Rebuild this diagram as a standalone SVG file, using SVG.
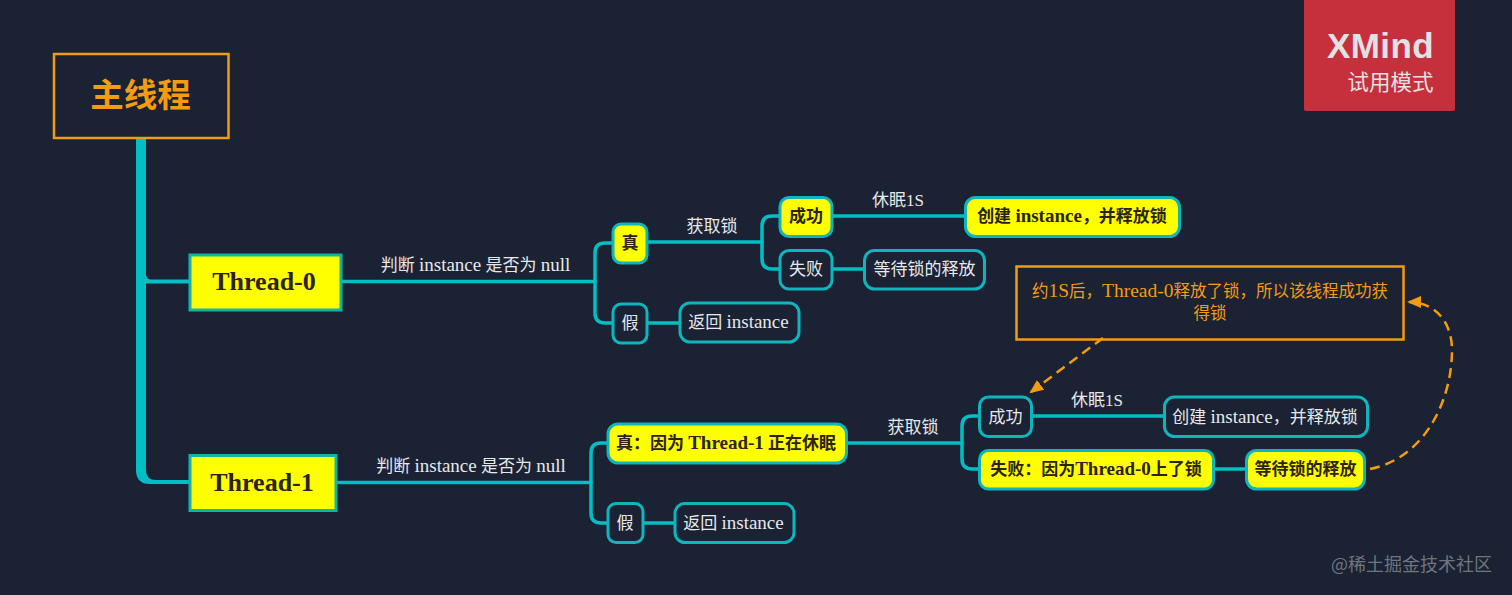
<svg xmlns="http://www.w3.org/2000/svg" width="1512" height="595" viewBox="0 0 1512 595">
<defs>
<style>
text{font-family:"Liberation Serif","Noto Sans CJK SC",serif;text-anchor:middle}
tspan{font-size:19px}
.w{fill:#e6e8ea;font-size:17px}
.d{fill:#2b2416;font-size:17px;font-weight:700}
.t{fill:#2b2416;font-size:26px;font-weight:700}
.m{font-size:16.500px;fill:#f39c12}
.m tspan{font-size:19.500px}
.s tspan{font-size:17px}
.n{fill:#1a2233;stroke:#0fb5bd;stroke-width:3}
.y{fill:#ffff00;stroke:#0fb5bd;stroke-width:3}
.c{fill:none;stroke:#00bfc4;stroke-width:3.500;stroke-linecap:round}
.o{fill:none;stroke:#f39c12;stroke-width:2.500}
.a{fill:none;stroke:#f39c12;stroke-width:2.500;stroke-dasharray:10 6}
</style>
<marker id="arr2" markerWidth="14" markerHeight="12" refX="12" refY="6" orient="auto" markerUnits="userSpaceOnUse" viewBox="0 0 14 12"><path d="M0 0L14 6L0 12Z" fill="#f39c12"/></marker>
</defs>
<rect width="1512" height="595" fill="#1a2233"/>
<g id="connectors">
<path d="M136 138H146V470Q146 480 156 480H190V484H150Q136 484 136 470Z" fill="#00bfc4"/>
<path d="M146 275Q147 279.500 151 279.500H190V283.500H146Z" fill="#00bfc4"/>
<path class="c" d="M341 281.500H595"/>
<path class="c" d="M612 243H605Q595 243 595 253V313Q595 323 605 323H612"/>
<path class="c" d="M647 323H679"/>
<path class="c" d="M647 242H762"/>
<path class="c" d="M779 216H772Q762 216 762 226V259Q762 269 772 269H779"/>
<path class="c" d="M832 216H965"/>
<path class="c" d="M832 269H864"/>
<path class="c" d="M336 482.500H591"/>
<path class="c" d="M607 443H601Q591 443 591 453V513Q591 523 601 523H607"/>
<path class="c" d="M643 523H674"/>
<path class="c" d="M847 443H962"/>
<path class="c" d="M979 416H972Q962 416 962 426V459Q962 469 972 469H979"/>
<path class="c" d="M1032 416H1164"/>
<path class="c" d="M1214 469H1246"/>
<path class="a" d="M1103 338L1031 392" marker-end="url(#arr2)"/>
<path class="a" d="M1370 469C1425 458 1452 400 1452 350C1452 322 1435 302 1409 302" marker-end="url(#arr2)"/>
</g>
<g id="main"><rect x="54" y="54" width="174.500" height="84" class="o"/><text x="140.500" y="107" style="font-size:33.500px;font-weight:700;fill:#f39c12">主线程</text></g>
<g id="thread0"><rect x="190" y="255" width="151" height="55" fill="#ffff00" stroke="#12b5a5" stroke-width="3"/><text x="264" y="290" class="t">Thread-0</text></g>
<g id="thread1"><rect x="190" y="455.500" width="146" height="55" fill="#ffff00" stroke="#12b5a5" stroke-width="3"/><text x="262" y="491" class="t">Thread-1</text></g>
<g id="label-null-0"><text x="475.500" y="271" class="w">判断 <tspan>instance</tspan> 是否为 <tspan>null</tspan></text></g>
<g id="label-null-1"><text x="471" y="472" class="w">判断 <tspan>instance</tspan> 是否为 <tspan>null</tspan></text></g>
<g id="t0-true"><rect x="613" y="224" width="34" height="39" rx="8" class="y"/><text x="630" y="249" class="d">真</text></g>
<g id="t0-false"><rect x="613" y="304" width="34" height="39" rx="8" class="n"/><text x="630" y="329" class="w">假</text></g>
<g id="t0-return"><rect x="680" y="303" width="119" height="39" rx="10" class="n"/><text x="738.500" y="328" class="w">返回 <tspan>instance</tspan></text></g>
<g id="label-lock-0"><text x="712" y="232" class="w">获取锁</text></g>
<g id="t0-ok"><rect x="780" y="197.500" width="52" height="39" rx="9" class="y"/><text x="806" y="222" class="d">成功</text></g>
<g id="t0-fail"><rect x="780" y="250.500" width="52" height="38.500" rx="9" class="n"/><text x="806" y="275" class="w">失败</text></g>
<g id="label-sleep-0"><text x="898" y="206" class="w s">休眠<tspan>1S</tspan></text></g>
<g id="t0-create"><rect x="965.500" y="197.500" width="214" height="39" rx="10" class="y"/><text x="1072" y="222" class="d">创建 <tspan>instance</tspan>，并释放锁</text></g>
<g id="t0-wait"><rect x="864.500" y="250.500" width="120" height="38.500" rx="10" class="n"/><text x="924.500" y="275" class="w">等待锁的释放</text></g>
<g id="note"><rect x="1016.500" y="266.500" width="387" height="73" class="o"/><text x="1210" y="297" class="m">约<tspan>1S</tspan>后，<tspan>Thread-0</tspan>释放了锁，所以该线程成功获</text><text x="1210" y="319" class="m">得锁</text></g>
<g id="t1-true"><rect x="608" y="424" width="238.500" height="39" rx="10" class="y"/><text x="726" y="449" class="d">真：因为 <tspan>Thread-1</tspan> 正在休眠</text></g>
<g id="t1-false"><rect x="608" y="503.500" width="35" height="39" rx="8" class="n"/><text x="625" y="529" class="w">假</text></g>
<g id="t1-return"><rect x="675" y="503.500" width="119" height="39" rx="10" class="n"/><text x="733.500" y="529" class="w">返回 <tspan>instance</tspan></text></g>
<g id="label-lock-1"><text x="913" y="433" class="w">获取锁</text></g>
<g id="t1-ok"><rect x="979.500" y="397" width="52" height="39.500" rx="9" class="n"/><text x="1005.500" y="423" class="w">成功</text></g>
<g id="t1-fail"><rect x="979.500" y="450.500" width="234" height="38.500" rx="9" class="y"/><text x="1096" y="475" class="d">失败：因为<tspan>Thread-0</tspan>上了锁</text></g>
<g id="label-sleep-1"><text x="1097" y="406" class="w s">休眠<tspan>1S</tspan></text></g>
<g id="t1-create"><rect x="1164.500" y="397" width="203" height="39.500" rx="10" class="n"/><text x="1265" y="423" class="w">创建 <tspan>instance</tspan>，并释放锁</text></g>
<g id="t1-wait"><rect x="1246.500" y="450.500" width="118" height="38.500" rx="10" class="y"/><text x="1305.500" y="475" class="d">等待锁的释放</text></g>
<g id="xmind"><path d="M1304 0H1455V109Q1455 111 1453 111H1306Q1304 111 1304 109Z" fill="#c5303c"/><text x="1380.500" y="57.500" style="font-family:'Liberation Sans',sans-serif;font-size:35px;font-weight:700;letter-spacing:.4px;fill:#e2e2e4">XMind</text><text x="1390.500" y="90" style="font-family:'Noto Sans CJK SC',sans-serif;font-size:21.500px;fill:#e2e2e4">试用模式</text></g>
<g id="watermark"><text x="1411.500" y="571" style="font-family:'Noto Sans CJK SC',sans-serif;font-size:18px;fill:#70757f">@稀土掘金技术社区</text></g>
</svg>
